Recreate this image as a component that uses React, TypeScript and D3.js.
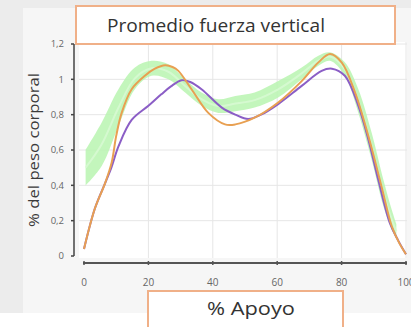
import React from "react";
import * as d3 from "d3";

const xTicks = [0, 20, 40, 60, 80, 100];
const yTicks = [0, 0.2, 0.4, 0.6, 0.8, 1, 1.2];
const yTickLabels = ["0", "0,2", "0,4", "0,6", "0,8", "1", "1,2"];

const purpleX = [0, 3.4, 6.5, 8.5, 10.7, 14.8, 20, 24, 27, 30.3, 33, 36.5, 42.8, 47, 51, 55, 60.3, 67.6, 73.8, 77, 81, 85.2, 88.3, 91.4, 95, 97.5, 100];
const purpleY = [0.04, 0.27, 0.41, 0.5, 0.62, 0.77, 0.85, 0.915, 0.96, 0.995, 0.985, 0.944, 0.84, 0.8, 0.775, 0.8, 0.86, 0.963, 1.048, 1.06, 1.02, 0.85, 0.66, 0.43, 0.186, 0.09, 0.01];

const orangeX = [0, 3.4, 6.5, 8.6, 10, 11.7, 14.8, 18.9, 22, 25.2, 27.5, 29.3, 33.4, 38.6, 43.8, 47, 53, 60.3, 67.6, 72.8, 76.4, 80, 84.2, 88.3, 92.4, 95.6, 98, 100];
const orangeY = [0.04, 0.27, 0.41, 0.53, 0.68, 0.81, 0.944, 1.02, 1.06, 1.08, 1.07, 1.048, 0.944, 0.81, 0.745, 0.745, 0.783, 0.869, 0.99, 1.096, 1.143, 1.096, 0.925, 0.68, 0.394, 0.167, 0.07, 0.01];

const bandX = [0.5, 5.5, 10.7, 15.8, 21, 26.2, 31.4, 36.5, 41.7, 47, 53, 60.3, 67.6, 72.8, 76.4, 81, 85.2, 89.3, 93, 95.6, 97];
const bandLow = [0.4, 0.51, 0.735, 0.944, 1.02, 1.0, 0.925, 0.85, 0.81, 0.82, 0.84, 0.897, 1.0, 1.077, 1.105, 1.02, 0.81, 0.546, 0.28, 0.148, 0.1];
const bandHigh = [0.6, 0.755, 0.944, 1.067, 1.105, 1.086, 1.0, 0.925, 0.887, 0.906, 0.925, 0.99, 1.067, 1.134, 1.153, 1.096, 0.944, 0.7, 0.43, 0.26, 0.18];

export default function App() {
  const W = 411, H = 327;
  const x = d3.scaleLinear().domain([0, 100]).range([84, 406]);
  const y = d3.scaleLinear().domain([0, 1.2]).range([256, 44]);

  const line = d3.line<[number, number]>().x(d => x(d[0])).y(d => y(d[1])).curve(d3.curveCatmullRom);
  const area = d3.area<number>()
    .x(i => x(bandX[i]))
    .y0(i => y(bandLow[i]))
    .y1(i => y(bandHigh[i]))
    .curve(d3.curveCatmullRom);
  const idx = bandX.map((_, i) => i);
  const mid = line(bandX.map((v, i) => [v, (bandLow[i] + bandHigh[i]) / 2] as [number, number]));
  const purplePath = line(purpleX.map((v, i) => [v, purpleY[i]] as [number, number]));
  const orangePath = line(orangeX.map((v, i) => [v, orangeY[i]] as [number, number]));

  const font = "'Open Sans', 'Noto Sans', sans-serif";

  return (
    <svg width={W} height={H} style={{ position: "absolute", left: 0, top: 0 }} fontFamily={font}>
      <rect x={0} y={0} width={W} height={H} fill="#ffffff" />
      <rect x={0} y={0} width={W} height={313} fill="#ececec" />
      <rect x={23} y={8} width={W - 23} height={305} fill="#f6f6f6" />
      <rect x={79} y={42} width={328} height={216} fill="#ffffff" />
      {xTicks.slice(1).map(t => (
        <line key={"gx" + t} x1={x(t)} x2={x(t)} y1={42} y2={258} stroke="#e6e6e6" strokeWidth={1} />
      ))}
      {yTicks.slice(1).map(t => (
        <line key={"gy" + t} x1={79} x2={407} y1={y(t)} y2={y(t)} stroke="#e6e6e6" strokeWidth={1} />
      ))}
      <path d={area(idx) || ""} fill="#b8f4b0" opacity={0.85} />
      <path d={mid || ""} fill="none" stroke="#dafad4" strokeWidth={2} opacity={0.8} />
      <path d={purplePath || ""} fill="none" stroke="#8b5ec6" strokeWidth={2} />
      <path d={orangePath || ""} fill="none" stroke="#e8a052" strokeWidth={2} />
      {/* y axis */}
      <line x1={74} x2={74} y1={y(1.2)} y2={y(0)} stroke="#444" strokeWidth={1.5} />
      {yTicks.map((t, i) => (
        <g key={"yt" + t}>
          <line x1={71} x2={74} y1={y(t)} y2={y(t)} stroke="#444" strokeWidth={1.5} />
          <text x={64} y={y(t)} dy="0.35em" textAnchor="end" fontSize={9.5} fill="#666">{yTickLabels[i]}</text>
        </g>
      ))}
      {/* x axis */}
      <line x1={x(0) - 1} x2={x(100) + 1} y1={263} y2={263} stroke="#555" strokeWidth={2} />
      {xTicks.map(t => (
        <g key={"xt" + t}>
          <line x1={x(t)} x2={x(t)} y1={261} y2={265} stroke="#555" strokeWidth={1.5} />
          <text x={x(t)} y={282} dy="0.35em" textAnchor="middle" fontSize={10} fill="#666">{t}</text>
        </g>
      ))}
      <text transform="translate(34,150) rotate(-90)" textAnchor="middle" dy="0.35em" fontSize={14} fill="#3a3a3a" textLength={154} lengthAdjust="spacingAndGlyphs">% del peso corporal</text>
      {/* title box */}
      <rect x={76} y={6} width={319} height={38} fill="#ffffff" stroke="#f0b088" strokeWidth={2} />
      <text x={216} y={32} textAnchor="middle" fontSize={19} fill="#333" textLength={218} lengthAdjust="spacingAndGlyphs">Promedio fuerza vertical</text>
      {/* x title box */}
      <rect x={148} y={291} width={195} height={50} fill="#ffffff" stroke="#f0b088" strokeWidth={2} />
      <text x={251} y={315} textAnchor="middle" fontSize={19} fill="#333" textLength={88} lengthAdjust="spacingAndGlyphs">% Apoyo</text>
    </svg>
  );
}
